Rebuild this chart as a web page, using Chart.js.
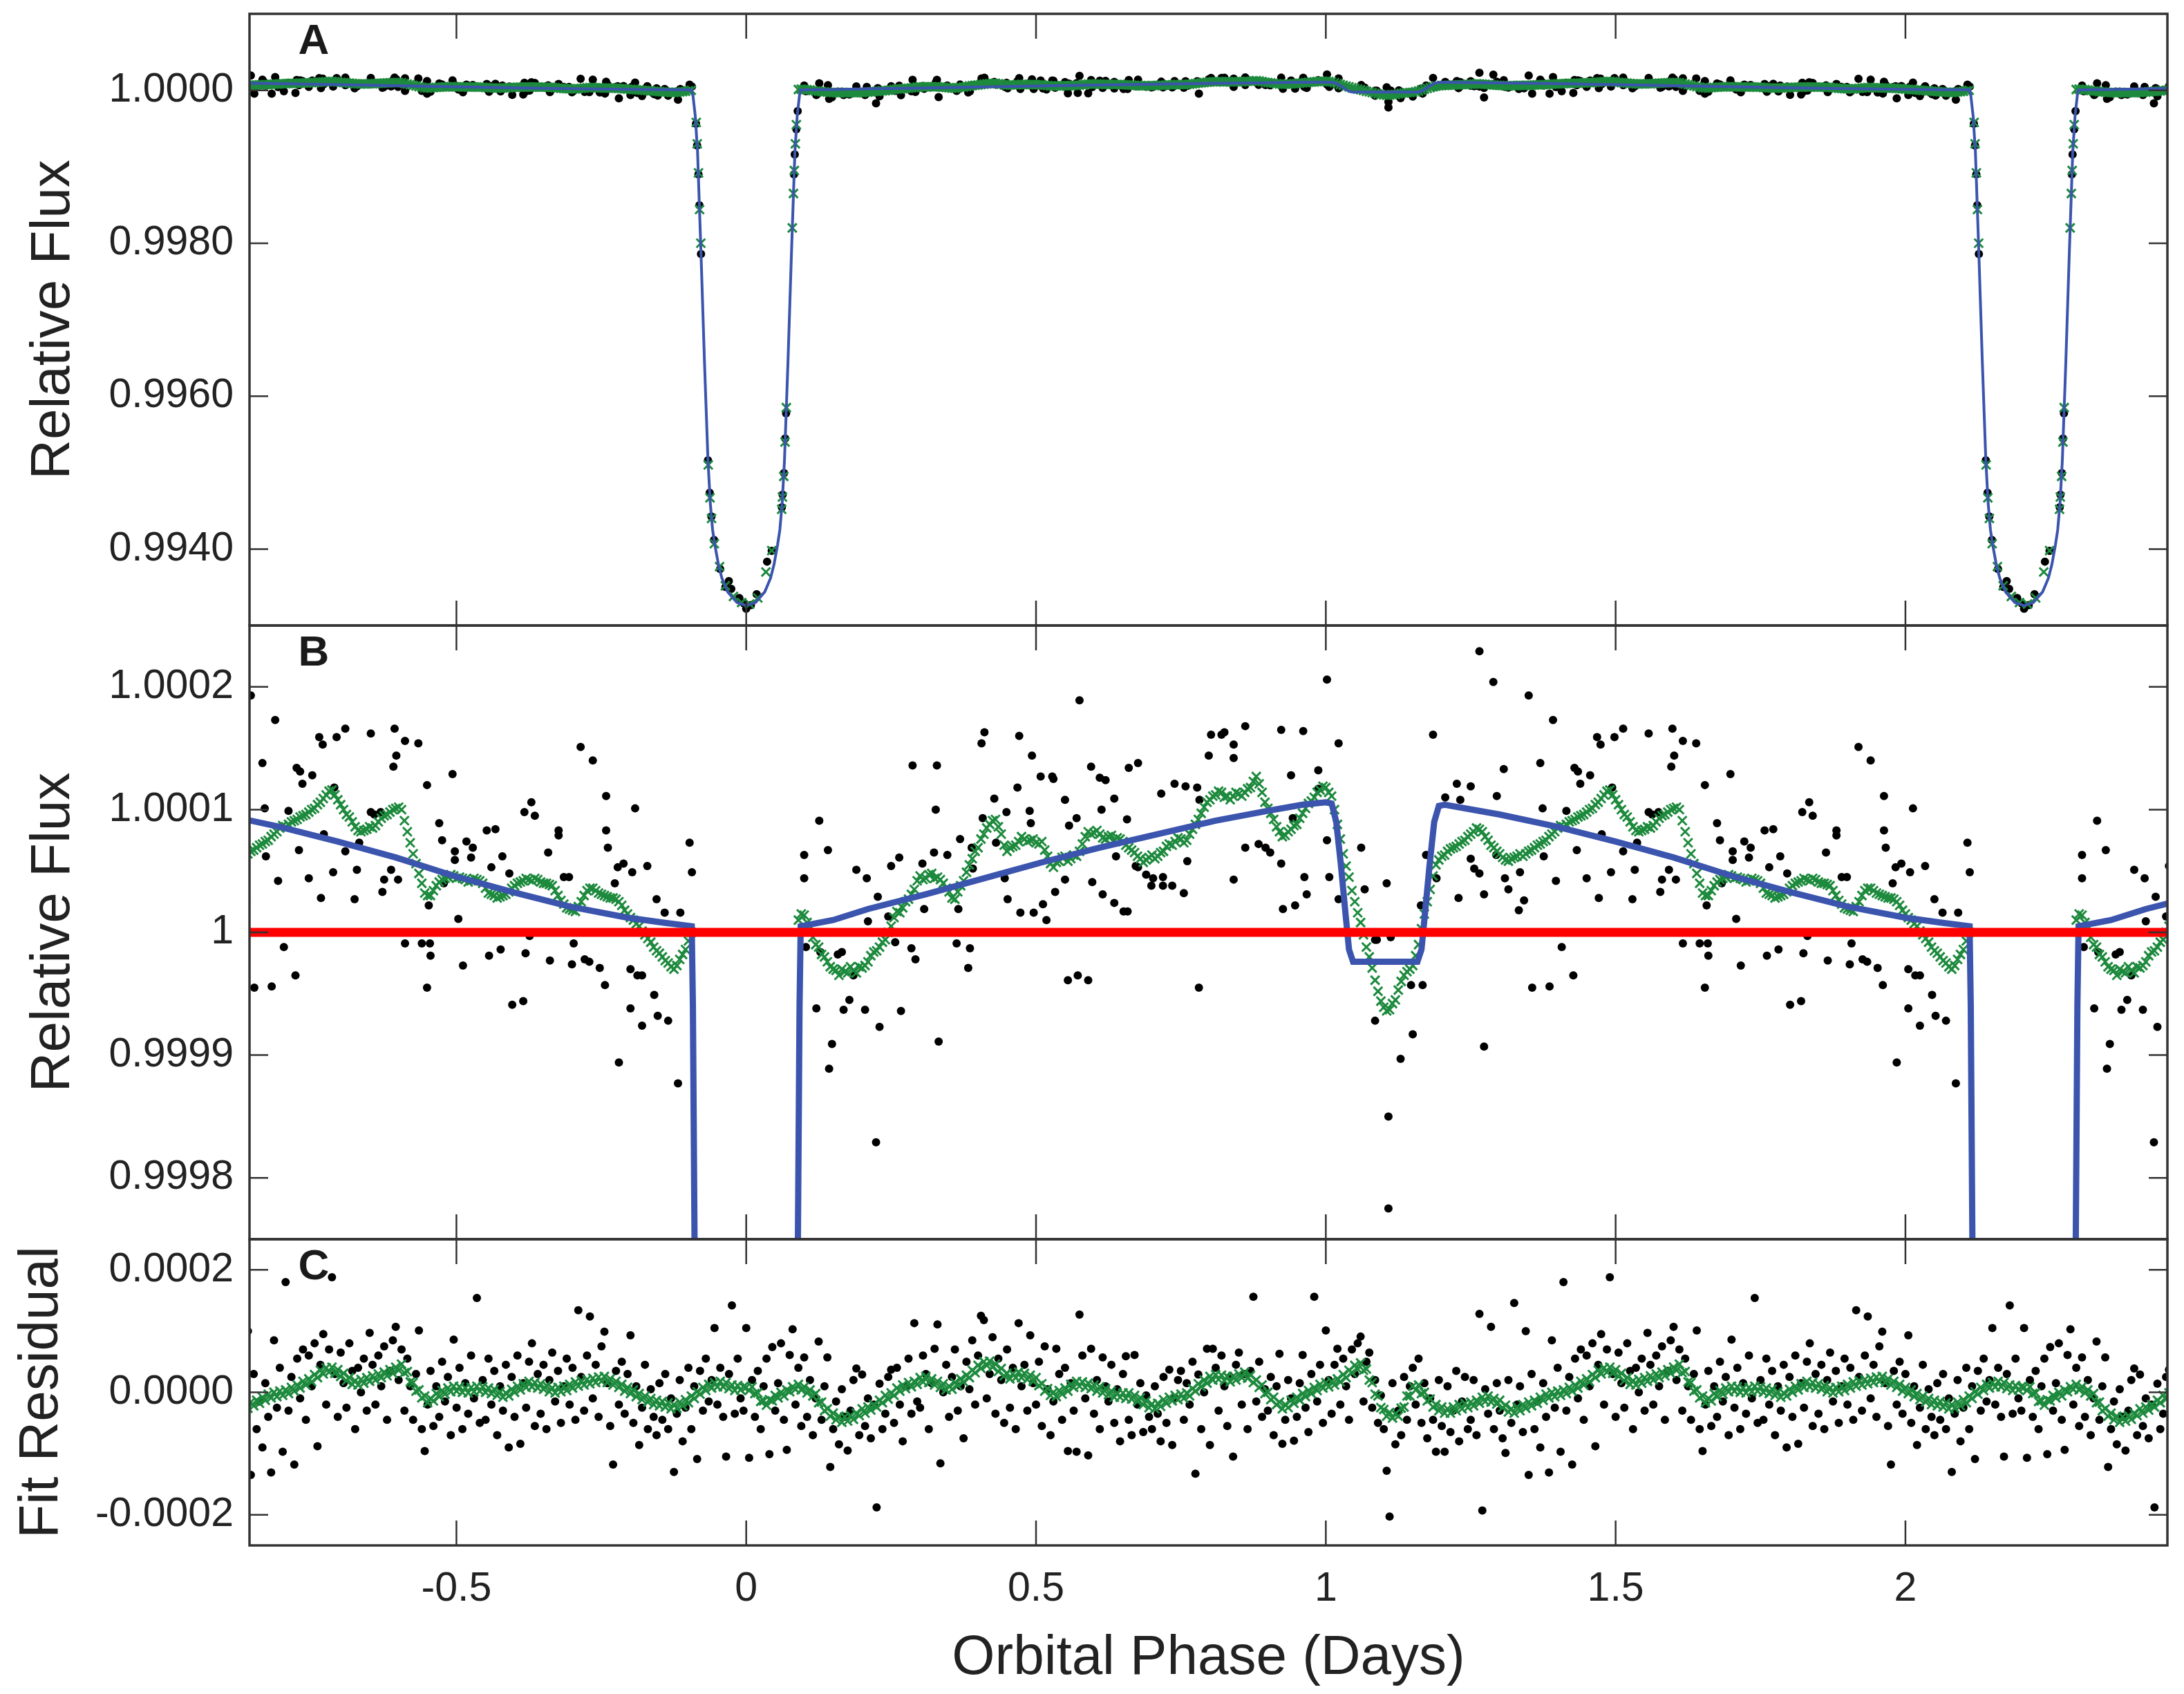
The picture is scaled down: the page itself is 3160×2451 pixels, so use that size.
<!DOCTYPE html>
<html>
<head>
<meta charset="utf-8">
<title>Phase-folded light curve</title>
<script src="https://cdn.jsdelivr.net/npm/chart.js@4.4.1/dist/chart.umd.min.js"></script>
<style>
  html, body { margin: 0; padding: 0; background: #fff; }
  #wrap { position: relative; width: 3160px; height: 2451px; }
  #wrap canvas { position: absolute; left: 0; top: 0; }
</style>
</head>
<body>
<div id="wrap">
  <canvas id="panelA" width="3160" height="2451"></canvas>
  <canvas id="panelB" width="3160" height="2451"></canvas>
  <canvas id="panelC" width="3160" height="2451"></canvas>
</div>
<script>
// ---- axes ----
const PERIOD = 2.2047;            // days, data is shown folded on this period
const X_MIN = -0.857, X_MAX = 2.452;
const xTicks = [-0.5, 0, 0.5, 1, 1.5, 2];
const xTickLabels = ['-0.5', '0', '0.5', '1', '1.5', '2'];

const yTicksA = [0.994, 0.996, 0.998, 1.0];
const yLabelsA = ['0.9940', '0.9960', '0.9980', '1.0000'];
const yTicksB = [0.9998, 0.9999, 1, 1.0001, 1.0002];
const yLabelsB = ['0.9998', '0.9999', '1', '1.0001', '1.0002'];
const yTicksC = [-0.0002, 0, 0.0002];
const yLabelsC = ['-0.0002', '0.0000', '0.0002'];

// ---- data (flux offsets in ppm, phase in days) ----
// binned flux out of transit: [phase, ppm]
const fluxDots = [
  [0.100,63],[0.100,44],[0.103,-12],[0.121,-62],[0.126,91],[0.128,-16],[0.141,67],[0.143,-111],[0.148,-91],[0.158,-18],
  [0.165,-16],[0.168,-63],[0.178,-55],[0.185,-35],[0.190,51],[0.205,-63],[0.208,44],[0.210,9],[0.224,-171],[0.227,29],
  [0.230,-77],[0.245,13],[0.250,54],[0.257,-8],[0.264,61],[0.267,-64],[0.285,-13],[0.287,136],[0.292,-22],[0.304,56],
  [0.307,19],[0.324,65],[0.327,100],[0.329,136],[0.332,-89],[0.347,63],[0.363,-9],[0.366,19],[0.369,76],[0.383,-29],
  [0.386,-13],[0.389,69],[0.391,52],[0.406,154],[0.408,93],[0.411,163],[0.428,109],[0.431,73],[0.446,44],[0.449,98],
  [0.451,27],[0.468,118],[0.471,160],[0.473,16],[0.489,99],[0.491,89],[0.493,144],[0.496,16],[0.508,127],[0.512,23],
  [0.518,10],[0.528,127],[0.530,125],[0.533,33],[0.550,43],[0.550,108],[0.555,-39],[0.557,87],[0.570,93],[0.572,-35],
  [0.575,189],[0.590,-39],[0.595,135],[0.597,41],[0.610,126],[0.613,100],[0.615,31],[0.620,124],[0.635,24],[0.635,109],
  [0.638,62],[0.651,17],[0.657,92],[0.658,17],[0.660,134],[0.672,54],[0.676,138],[0.676,53],[0.690,47],[0.699,38],
  [0.702,44],[0.716,113],[0.719,38],[0.719,45],[0.735,38],[0.739,121],[0.755,32],[0.758,119],[0.761,58],[0.778,118],
  [0.781,-45],[0.782,108],[0.798,144],[0.802,161],[0.820,161],[0.825,163],[0.841,153],[0.841,142],[0.841,43],[0.861,168],
  [0.861,69],[0.884,72],[0.896,69],[0.904,65],[0.923,165],[0.923,56],[0.926,19],[0.940,128],[0.943,93],[0.947,22],
  [0.961,164],[0.963,45],[0.967,31],[0.987,132],[0.987,117],[1.002,206],[1.002,75],[1.006,45],[1.022,154],[1.022,27],
  [1.061,69],[1.067,35],[1.085,-72],[1.085,-6],[1.088,-6],[1.105,40],[1.108,-150],[1.108,-225],[1.112,-4],[1.126,0],
  [1.129,-103],[1.147,-43],[1.150,-83],[1.164,22],[1.167,-43],[1.173,63],[1.185,161],[1.191,44],[1.206,110],[1.226,121],
  [1.229,28],[1.232,108],[1.250,119],[1.250,60],[1.256,52],[1.265,229],[1.265,48],[1.273,31],[1.273,-93],[1.289,204],
  [1.295,111],[1.294,63],[1.307,133],[1.309,44],[1.315,35],[1.333,18],[1.335,49],[1.342,26],[1.350,193],[1.356,-45],
  [1.370,138],[1.374,101],[1.376,62],[1.386,-44],[1.392,173],[1.397,42],[1.407,-12],[1.415,99],[1.427,-35],[1.429,134],
  [1.433,67],[1.435,131],[1.439,121],[1.450,44],[1.456,128],[1.468,159],[1.471,28],[1.474,153],[1.476,80],[1.492,49],
  [1.494,118],[1.498,159],[1.513,166],[1.513,66],[1.529,27],[1.533,51],[1.537,73],[1.557,162],[1.557,98],[1.563,96],
  [1.574,98],[1.577,33],[1.580,43],[1.592,51],[1.596,135],[1.598,166],[1.601,144],[1.604,43],[1.616,156],[1.616,-9],
  [1.639,154],[1.645,-9],[1.654,120],[1.654,-45],[1.657,22],[1.659,-9],[1.660,-19],[1.675,89],[1.680,75],[1.683,40],
  [1.698,129],[1.702,66],[1.702,59],[1.708,11],[1.716,-27],[1.722,74],[1.730,61],[1.733,69],[1.757,83],[1.761,-19],
  [1.765,53],[1.772,84],[1.781,-14],[1.784,62],[1.796,48],[1.801,-59],[1.820,-56],[1.822,98],[1.824,-17],[1.831,-3],
  [1.834,106],[1.840,95],[1.863,65],[1.866,-23],[1.881,83],[1.881,79],[1.890,45],[1.899,45],[1.904,-26],[1.907,-9],
  [1.919,151],[1.926,-22],[1.934,-24],[1.940,140],[1.952,-29],[1.961,-43],[1.963,111],[1.963,83],[1.966,69],[1.978,40],
  [1.983,53],[1.985,-106],[1.993,56],[2.005,-30],[2.005,-62],[2.008,49],[2.013,101],[2.017,-35],[2.025,-76],[2.025,-35],
  [2.034,54],[2.046,-51],[2.050,27],[2.052,-68],[2.064,16],[2.070,-72],[2.087,-123],[2.091,16],[2.107,73],[2.111,49]
];
// points inside the transit, phase relative to mid-transit
const transitDots = [
  [-0.0866,-438],[-0.0847,-722],[-0.0824,-1100],[-0.0808,-1503],[-0.0780,-2142],[-0.0660,-4840],[-0.0630,-5265],
  [-0.0600,-5573],[-0.0555,-5881],[-0.0450,-6260],[-0.0358,-6496],[-0.0300,-6420],[-0.0258,-6520],[-0.0119,-6640],
  [-0.0040,-6710],[0.0000,-6780],[0.0080,-6734],[0.0180,-6590],[0.0360,-6165],[0.0440,-6023],[0.0615,-5455],
  [0.0628,-5290],[0.0652,-5006],[0.0672,-4555],[0.0688,-4224],[0.0824,-1100],[0.0837,-840],[0.0865,-509],[0.0888,-272]
];
const transitCrosses = [
  [-0.0862,-420],[-0.0845,-700],[-0.0823,-1080],[-0.0805,-1560],[-0.0783,-2000],[-0.0655,-4900],[-0.0625,-5330],
  [-0.0598,-5600],[-0.0550,-5930],[-0.0460,-6230],[-0.0360,-6480],[-0.0220,-6620],[-0.0080,-6700],[0.0060,-6720],
  [0.0200,-6640],[0.0340,-6300],[0.0440,-6020],[0.0612,-5480],[0.0625,-5320],[0.0648,-5050],[0.0670,-4600],
  [0.0692,-4150],[0.0795,-1800],[0.0815,-1350],[0.0830,-1050],[0.0848,-700],[0.0865,-450]
];
// smoothed flux (green), 0.005 d bins starting at phase 0.09
const smoothStart = 0.09, smoothStep = 0.005;
const smoothPpm = [
  10,15,14,8,5,-4,-10,-12,-18,-20,-24,-28,-30,-31,-35,-30,-32,-33,-28,-31,
  -33,-28,-29,-27,-24,-19,-16,-15,-12,-8,-6,0,5,12,17,16,20,25,27,31,
  35,42,46,43,44,47,48,44,45,43,40,36,33,28,27,33,38,42,49,55,
  60,66,69,76,80,85,88,91,92,86,80,71,66,69,70,71,74,78,76,74,
  75,76,73,72,74,67,62,56,53,57,58,61,62,58,60,63,62,66,72,78,
  82,80,81,83,80,77,76,78,79,75,77,76,74,71,69,67,65,62,60,57,
  59,61,63,60,62,65,66,70,72,71,74,77,76,73,75,80,84,88,92,97,
  102,106,108,111,112,115,114,110,111,108,111,114,113,111,114,117,118,123,127,121,
  114,106,101,97,92,86,82,78,79,82,84,87,88,93,97,101,105,107,110,114,
  116,119,118,114,111,100,88,76,64,54,45,34,25,16,8,-2,-12,-20,-29,-39,
  -48,-56,-61,-64,-63,-58,-55,-47,-40,-35,-32,-30,-27,-19,-10,3,15,25,35,46,
  55,59,62,63,66,68,69,70,72,74,75,78,80,82,85,84,82,78,75,71,
  69,66,64,61,59,58,60,61,62,64,62,64,66,67,69,71,72,74,75,78,
  80,82,85,87,86,88,90,91,92,94,95,96,98,100,101,104,106,109,112,115,
  116,112,108,104,100,96,94,90,86,83,82,83,84,86,85,87,90,93,95,96,
  98,100,101,102,100,91,82,73,64,56,48,40,32,30,30,34,38,41,43,44,
  45,47,46,44,45,44,43,41,42,44,43,42,40,36,32,31,30,28,29,30,
  31,33,36,38,40,41,42,44,43,42,44,43,41,40,40,39,38,34,30,26,
  23,20,19,18,17,21,25,30,34,36,36,34,32,31,30,29,28,28,27,25,
  22,18,15,12,10,7,5,1,-2,-5,-8,-12,-15,-17,-20,-23,-25,-28,-30,-27,
  -22,-18,-14,-7,0
];
// model fit: [phase, ppm], one orbit from first contact
const modelFit = [
  [-0.094,5],[-0.092,-60],[-0.088,-330],[-0.084,-800],[-0.078,-2140],[-0.072,-3560],[-0.066,-4840],[-0.062,-5400],
  [-0.058,-5750],[-0.054,-5950],[-0.048,-6200],[-0.042,-6380],[-0.032,-6560],[-0.016,-6700],[0,-6740],[0.016,-6700],
  [0.032,-6560],[0.042,-6380],[0.048,-6200],[0.054,-5950],[0.058,-5750],[0.062,-5400],[0.066,-4840],[0.072,-3560],
  [0.078,-2140],[0.084,-800],[0.088,-330],[0.092,-60],[0.094,5],
  [0.15,10],[0.21,19],[0.31,31],[0.41,44],[0.51,57],[0.61,69],[0.71,80],[0.81,91],[0.90,99],[0.96,104],[1.0,106],
  [1.01,105],[1.018,90],[1.026,55],[1.034,15],[1.040,-14],[1.047,-24],[1.158,-24],[1.165,-14],[1.171,15],[1.179,55],
  [1.187,90],[1.195,103],[1.205,104],[1.30,96],[1.40,86],[1.50,74],[1.60,61],[1.70,46],[1.80,33],[1.90,21],
  [2.00,12],[2.06,8],[2.1107,5]
];
const refLevel = 1;

// residuals, 0.005 d bins over one orbit from phase 0
const residStart = 0, residStep = 0.005;
const residPpm = [
  105,-107,20,-40,35,-60,10,55,-101,74, -30,15,80,-45,-94,61,103,-20,40,-55,
  57,-40,20,-70,-10,83,-45,10,57,-122, -60,-15,-85,5,-40,-95,-30,20,39,-70,
  29,-55,-10,-75,-20,-188,14,-60,-35,25, 37,-50,40,-20,-80,10,55,-35,113,-15,
  -25,60,30,-60,15,71,111,-116,0,45, -40,25,70,-30,10,-75,50,5,85,-20,
  60,125,118,-10,30,90,-35,55,20,-50, 70,-25,40,-60,113,10,45,-30,93,15,
  -20,50,-55,75,5,-70,-15,71,30,-45, 40,-96,15,-30,-97,127,60,-10,-103,71,
  -35,20,-60,57,10,-15,45,-50,5,-80, 30,59,-45,-70,61,-20,15,-65,-5,-40,
  -60,10,-35,-80,25,-50,37,-86,-10,20, 35,-45,15,-20,50,-133,29,-60,0,71,
  -86,71,40,-30,60,10,-55,25,-105,45, 65,-20,30,-60,35,156,-15,50,-40,5,
  -30,25,-70,10,63,-84,-45,20,-10,-79, -40,15,61,-25,-65,30,156,-15,45,-50,
  101,20,-35,45,71,-20,55,10,-45,70, 30,80,91,-15,50,65,-25,20,-50,-5,
  -60,-128,-203,15,-85,-30,-70,25,-45,10, 40,-20,55,-50,15,-75,-10,-45,-97,20,
  -55,-97,10,-65,-30,35,-80,-15,25,-60, -45,20,-70,128,-193,5,-35,107,-60,15,
  -30,-75,-99,20,-50,146,-20,10,-65,100, -135,30,-60,-15,-90,15,-40,-131,85,-25,
  40,-97,180,-30,25,-118,55,-10,70,-45, 60,10,80,-88,45,95,-20,70,188,30,
  -40,65,15,-25,80,35,-60,40,0,55, -30,97,45,-20,60,10,75,-45,35,85,
  107,20,70,-30,55,10,-45,30,101,-60, -96,-20,35,-55,10,-40,50,-15,25,-70,
  86,-25,40,-60,15,-35,60,-10,154,-50, 20,-45,55,-20,35,-70,10,-30,45,-90,
  25,-40,60,-84,15,-25,50,80,-55,30, -35,45,-60,20,65,-15,35,-50,10,55,
  -20,40,-45,134,25,-30,60,124,-10,45, -40,75,99,15,-55,-118,35,-20,50,-35,
  30,93,-50,10,-86,-25,45,-60,5,-40, -70,15,-45,30,-60,-10,-130,-35,20,-80,
  -25,40,-60,10,-109,35,-30,55,-15,20, 105,-20,40,-40,-105,30,142,-35,55,-10,
  -30
];
// smoothed residuals, 0.005 d bins from phase 0
const residSmoothStart = 0, residSmoothStep = 0.005;
const residSmoothPpm = [
  8,3,9,-2,-1,-15,-14,-21,-12,-14,-5,-9,0,-6,4,1,9,5,13,4,
  9,-1,4,-6,-2,-17,-16,-30,-27,-39,-34,-45,-39,-49,-40,-47,-38,-44,-34,-38,
  -27,-34,-24,-29,-20,-24,-13,-17,-5,-11,-1,-5,7,2,12,6,16,9,18,13,
  24,17,26,16,22,12,18,8,14,4,10,5,16,11,22,17,28,24,36,32,
  44,39,50,44,51,41,46,34,39,27,31,22,30,24,33,24,31,21,28,18,
  24,11,14,2,6,-5,0,-7,3,-3,7,2,13,8,18,10,17,8,15,6,
  12,2,9,-1,6,-4,2,-8,-1,-8,-1,-10,-1,-11,-5,-15,-9,-20,-14,-25,
  -19,-27,-18,-23,-12,-18,-8,-14,-5,-12,-3,-10,-1,-6,6,2,14,9,20,15,
  26,20,29,21,28,19,26,17,26,20,30,24,33,23,28,16,20,8,12,-2,
  0,-12,-8,-20,-16,-27,-20,-25,-13,-18,-8,-13,-2,-7,3,-2,8,3,13,7,
  16,9,18,12,22,17,29,24,36,32,44,38,48,36,38,20,16,-3,-6,-25,
  -28,-39,-33,-42,-35,-39,-26,-24,-6,-6,10,4,12,-2,0,-14,-11,-24,-20,-30,
  -24,-34,-27,-34,-24,-30,-20,-27,-18,-25,-16,-22,-13,-18,-8,-15,-6,-16,-10,-19,
  -13,-25,-21,-32,-27,-34,-24,-30,-20,-26,-16,-22,-13,-18,-8,-13,-3,-9,0,-7,
  2,-5,4,-2,8,2,12,7,18,12,22,17,29,24,36,30,40,33,41,31,
  37,26,31,19,24,13,19,12,21,15,24,18,27,20,30,24,33,27,37,31,
  41,36,46,32,34,17,16,2,4,-9,-6,-17,-10,-14,-2,-7,3,-3,7,1,
  10,2,9,0,7,-1,8,1,10,2,9,0,7,-2,5,-5,1,-8,-1,-6,
  5,0,10,4,14,8,18,9,16,7,14,5,11,1,7,-1,8,1,10,3,
  13,7,17,10,19,12,21,14,23,16,25,18,26,16,22,12,18,8,13,2,
  8,-2,4,-7,-2,-12,-6,-16,-10,-20,-13,-22,-15,-24,-17,-27,-20,-26,-16,-22,
  -12,-17,-6,-10,1,-3,8,3,13,7,16,9,18,9,16,6,12,3,11,4,
  9
];

// ---- helpers ----
const FONT = '"Liberation Sans", Arial, Helvetica, sans-serif';
const AXIS_W = 361;
const DOT = '#000000', CROSS = '#1d8a3d', BLUE = '#3b54ad', RED = '#ff0000', INK = '#222222';

function gridPairs(start, step, vals) {
  return vals.map((v, i) => [start + i * step, v]);
}
// repeat one orbit at -P, 0, +P like the original phase plot
function fold(pairs, toY) {
  const out = [];
  [-PERIOD, 0, PERIOD].forEach(shift => {
    pairs.forEach(p => {
      const x = p[0] + shift;
      if (x >= X_MIN - 0.2 && x <= X_MAX + 0.2) out.push({ x: x, y: toY(p[1]) });
    });
  });
  return out.sort((a, b) => a.x - b.x);
}
const flux = ppm => 1 + ppm * 1e-6;
const resid = ppm => ppm * 1e-6;

const smoothPairs = gridPairs(smoothStart, smoothStep, smoothPpm);
const residPairs = gridPairs(residStart, residStep, residPpm);
const residSmoothPairs = gridPairs(residSmoothStart, residSmoothStep, residSmoothPpm);

// frame, inward ticks and panel letter
const framePlugin = {
  id: 'frame',
  afterDraw(chart, args, opts) {
    const { ctx, chartArea: a, scales } = chart;
    ctx.save();
    ctx.strokeStyle = '#333';
    ctx.lineWidth = 2.5;
    ctx.beginPath();
    xTicks.forEach(v => {
      const px = scales.x.getPixelForValue(v);
      ctx.moveTo(px, a.top); ctx.lineTo(px, a.top + 36);
      ctx.moveTo(px, a.bottom); ctx.lineTo(px, a.bottom - 36);
    });
    opts.yTicks.forEach(v => {
      const py = scales.y.getPixelForValue(v);
      ctx.moveTo(a.left, py); ctx.lineTo(a.left + 27, py);
      ctx.moveTo(a.right, py); ctx.lineTo(a.right - 27, py);
    });
    ctx.stroke();
    ctx.lineWidth = 3.5;
    ctx.strokeRect(a.left, a.top, a.right - a.left, a.bottom - a.top);
    ctx.fillStyle = '#1a1a1a';
    ctx.font = 'bold 62px ' + FONT;
    ctx.textAlign = 'center';
    ctx.textBaseline = 'middle';
    ctx.fillText(opts.letter, a.left + 93, a.top + 41);
    ctx.restore();
  }
};

function yAxis(min, max, ticks, labels, title, titlePad) {
  return {
    type: 'linear', position: 'left', min: min, max: max,
    afterBuildTicks: s => { s.ticks = ticks.map(v => ({ value: v })); },
    afterFit: s => { s.width = AXIS_W; s.paddingTop = 0; s.paddingBottom = 0; },
    ticks: { callback: (v, i) => labels[i], font: { size: 59, family: FONT }, color: INK, padding: 23, autoSkip: false },
    grid: { display: false, drawTicks: false },
    border: { display: false },
    title: { display: true, text: title, color: INK, font: { size: 80, family: FONT }, padding: { top: titlePad, bottom: 0 } }
  };
}
const hiddenX = { type: 'linear', min: X_MIN, max: X_MAX, display: false };

function dots(data, order) {
  return { data: data, order: order, clip: 0, pointRadius: 6, pointHoverRadius: 6,
           pointBackgroundColor: DOT, pointBorderWidth: 0, borderColor: DOT, showLine: false };
}
function crosses(data, order) {
  return { data: data, order: order, clip: 0, pointStyle: 'crossRot', pointRadius: 9, pointHoverRadius: 9,
           pointBorderColor: CROSS, borderColor: CROSS, pointBorderWidth: 3, showLine: false };
}
function line(data, color, width, order) {
  return { data: data, order: order, clip: 0, showLine: true, pointRadius: 0, borderColor: color,
           borderWidth: width, tension: 0, fill: false };
}
function baseOptions(pad, scales, frame) {
  return {
    responsive: false, animation: false, events: [],
    layout: { padding: pad },
    plugins: { legend: { display: false }, tooltip: { enabled: false }, frame: frame },
    scales: scales
  };
}

// ---- panel A: full transit light curve ----
new Chart(document.getElementById('panelA'), {
  type: 'scatter',
  data: { datasets: [
    line(fold(modelFit, flux), BLUE, 4, 1),
    crosses(fold(smoothPairs.concat(transitCrosses), flux), 2),
    dots(fold(fluxDots.concat(transitDots), flux), 3)
  ] },
  options: baseOptions({ top: 20, bottom: 1546, left: 0, right: 24 },
    { x: hiddenX, y: yAxis(0.993, 1.001, yTicksA, yLabelsA, 'Relative Flux', 30) },
    { yTicks: yTicksA, letter: 'A' }),
  plugins: [framePlugin]
});

// ---- panel B: zoom on the phase curve ----
new Chart(document.getElementById('panelB'), {
  type: 'scatter',
  data: { datasets: [
    line([{ x: X_MIN, y: refLevel }, { x: X_MAX, y: refLevel }], RED, 13, 0),
    line(fold(modelFit, flux), BLUE, 9, 1),
    crosses(fold(smoothPairs, flux), 2),
    dots(fold(fluxDots, flux), 3)
  ] },
  options: baseOptions({ top: 905, bottom: 658, left: 0, right: 24 },
    { x: hiddenX, y: yAxis(0.99975, 1.00025, yTicksB, yLabelsB, 'Relative Flux', 30) },
    { yTicks: yTicksB, letter: 'B' }),
  plugins: [framePlugin]
});

// ---- panel C: residuals ----
new Chart(document.getElementById('panelC'), {
  type: 'scatter',
  data: { datasets: [
    crosses(fold(residSmoothPairs, resid), 2),
    dots(fold(residPairs, resid), 3)
  ] },
  options: baseOptions({ top: 1793, bottom: 0, left: 0, right: 24 },
    {
      x: {
        type: 'linear', position: 'bottom', min: X_MIN, max: X_MAX,
        afterBuildTicks: s => { s.ticks = xTicks.map(v => ({ value: v })); },
        afterFit: s => { s.height = 215; s.paddingLeft = 0; s.paddingRight = 0; },
        ticks: { callback: (v, i) => xTickLabels[i], font: { size: 59, family: FONT }, color: INK,
                 padding: 28, autoSkip: false, maxRotation: 0 },
        grid: { display: false, drawTicks: false },
        border: { display: false },
        title: { display: true, text: 'Orbital Phase (Days)', color: INK, font: { size: 80, family: FONT },
                 padding: { top: 0, bottom: 3 } }
      },
      y: yAxis(-0.00025, 0.00025, yTicksC, yLabelsC, 'Fit Residual', 13)
    },
    { yTicks: yTicksC, letter: 'C' }),
  plugins: [framePlugin]
});
</script>
</body>
</html>
